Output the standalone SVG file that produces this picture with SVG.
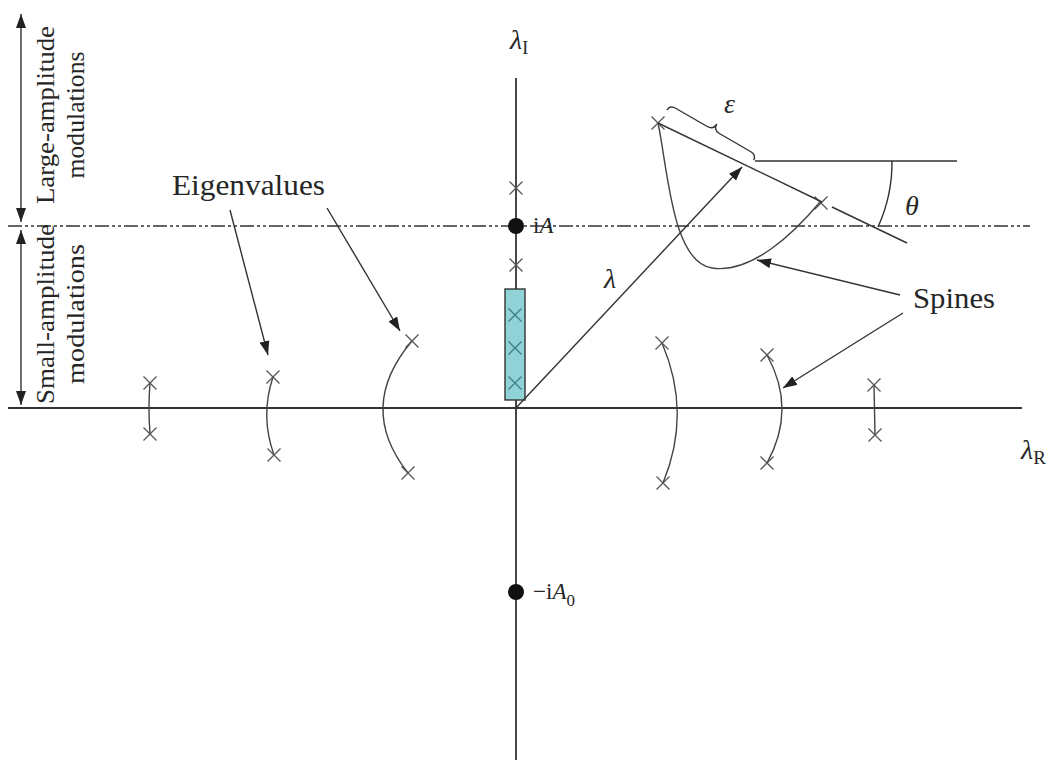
<svg xmlns="http://www.w3.org/2000/svg" xmlns:xlink="http://www.w3.org/1999/xlink" width="1061" height="763" viewBox="0 0 1061 763">
<style>
.ax{stroke:#333;stroke-width:1.8;fill:none}
.ln{stroke:#333;stroke-width:1.4;fill:none}
.sp{stroke:#444;stroke-width:1.4;fill:none}
.dd{stroke:#333;stroke-width:1.6;fill:none;stroke-dasharray:14 3 3 3 3 3}
.arr{stroke:#333;stroke-width:1.4;fill:none;marker-end:url(#ah)}
.t{font-family:"Liberation Serif","Times New Roman",serif;fill:#262626}
.it{font-style:italic}
</style>
<defs>
<marker id="ah" viewBox="0 0 14 10" refX="14" refY="5" markerWidth="14" markerHeight="10" markerUnits="userSpaceOnUse" orient="auto-start-reverse">
<path d="M0,0 L14,5 L0,10 Z" fill="#222"/>
</marker>
<path id="x" d="M-6.5,-6.5 L6.5,6.5 M-6.5,6.5 L6.5,-6.5" stroke="#555" stroke-width="1.3" fill="none"/>
<path id="xb" d="M-6.5,-6.5 L6.5,6.5 M-6.5,6.5 L6.5,-6.5" stroke="#3d7f86" stroke-width="1.4" fill="none"/>
</defs>

<g id="axes">
<line class="ax" x1="8" y1="408" x2="1022" y2="408"/>
<line class="ax" x1="516" y1="78" x2="516" y2="760"/>
<line class="dd" x1="8" y1="226" x2="1030" y2="226"/>
</g>

<g id="axis-labels">
<text class="t it" x="510" y="49" font-size="28">λ<tspan font-style="normal" font-size="18" dy="5">I</tspan></text>
<text class="t it" x="1021" y="459" font-size="28">λ<tspan font-style="normal" font-size="19" dy="5">R</tspan></text>
</g>

<g id="amplitude-ranges">
<line class="ln" x1="21" y1="14" x2="21" y2="222" marker-start="url(#ah)" marker-end="url(#ah)"/>
<line class="ln" x1="21" y1="230" x2="21" y2="405" marker-start="url(#ah)" marker-end="url(#ah)"/>
<text class="t" font-size="26" text-anchor="middle" transform="translate(54,115) rotate(-90)" textLength="178" lengthAdjust="spacingAndGlyphs">Large-amplitude</text>
<text class="t" font-size="26" text-anchor="middle" transform="translate(84,115) rotate(-90)" textLength="127" lengthAdjust="spacingAndGlyphs">modulations</text>
<text class="t" font-size="26" text-anchor="middle" transform="translate(54,314) rotate(-90)" textLength="180" lengthAdjust="spacingAndGlyphs">Small-amplitude</text>
<text class="t" font-size="26" text-anchor="middle" transform="translate(84,314) rotate(-90)" textLength="140" lengthAdjust="spacingAndGlyphs">modulations</text>
</g>

<g id="imag-axis-points">
<use xlink:href="#x" x="516" y="188"/>
<use xlink:href="#x" x="516" y="265"/>
<circle cx="516" cy="226" r="8" fill="#111"/>
<text class="t" x="533" y="233" font-size="23">i<tspan class="it">A</tspan></text>
<circle cx="516" cy="592" r="8" fill="#111"/>
<text class="t" x="533" y="599" font-size="23">−i<tspan class="it">A</tspan><tspan font-size="17" dy="7">0</tspan></text>
</g>

<g id="box">
<rect x="505" y="289" width="20" height="111" fill="#8fd3d7" stroke="#333" stroke-width="1.4"/>
<use xlink:href="#xb" x="515" y="315"/>
<use xlink:href="#xb" x="515" y="348"/>
<use xlink:href="#xb" x="515" y="383"/>
</g>

<g id="spines-left">
<path class="sp" d="M150,383 Q148,408 150,434"/>
<use xlink:href="#x" x="150" y="383"/>
<use xlink:href="#x" x="150" y="434"/>
<path class="sp" d="M273,377 Q260,416 274,455"/>
<use xlink:href="#x" x="273" y="377"/>
<use xlink:href="#x" x="274" y="455"/>
<path class="sp" d="M412,341 Q356,407 408,473"/>
<use xlink:href="#x" x="412" y="341"/>
<use xlink:href="#x" x="408" y="473"/>
</g>

<g id="spines-right">
<path class="sp" d="M662,343 Q692,413 663,483"/>
<use xlink:href="#x" x="662" y="343"/>
<use xlink:href="#x" x="663" y="483"/>
<path class="sp" d="M767,355 Q797,409 767,463"/>
<use xlink:href="#x" x="767" y="355"/>
<use xlink:href="#x" x="767" y="463"/>
<path class="sp" d="M874,385 L875,435"/>
<use xlink:href="#x" x="874" y="385"/>
<use xlink:href="#x" x="875" y="435"/>
</g>

<g id="large-spine">
<path class="sp" d="M658,123 C668,170 672,262 712,268 C752,274 795,232 820,202"/>
<use xlink:href="#x" x="658" y="123"/>
<use xlink:href="#x" x="821" y="203"/>
<line class="ln" x1="658" y1="123" x2="822" y2="202"/>
<line class="ln" x1="832" y1="207" x2="907" y2="243"/>
<line class="ln" x1="755" y1="161" x2="957" y2="161"/>
<path class="ln" d="M892,161 A156,156 0 0 1 878,227"/>
<path class="ln" transform="translate(670,105) rotate(30)" d="M0,6 Q0,0 7,0 L43,0 Q50,0 50,-7 Q50,0 57,0 L93,0 Q100,0 100,6"/>
<text class="t it" x="724" y="113" font-size="28">ε</text>
<text class="t it" x="905" y="215" font-size="28">θ</text>
</g>

<g id="lambda">
<line class="arr" x1="516" y1="408" x2="742" y2="167"/>
<text class="t it" x="604" y="288" font-size="28">λ</text>
</g>

<g id="labels">
<text class="t" x="172" y="195" font-size="30" textLength="153" lengthAdjust="spacingAndGlyphs">Eigenvalues</text>
<text class="t" x="913" y="308" font-size="30" textLength="82" lengthAdjust="spacingAndGlyphs">Spines</text>
</g>

<g id="connectors">
<line class="arr" x1="230" y1="210" x2="268" y2="355"/>
<line class="arr" x1="327" y1="208" x2="400" y2="331"/>
<line class="arr" x1="900" y1="295" x2="757" y2="260"/>
<line class="arr" x1="903" y1="313" x2="783" y2="388"/>
</g>
</svg>
